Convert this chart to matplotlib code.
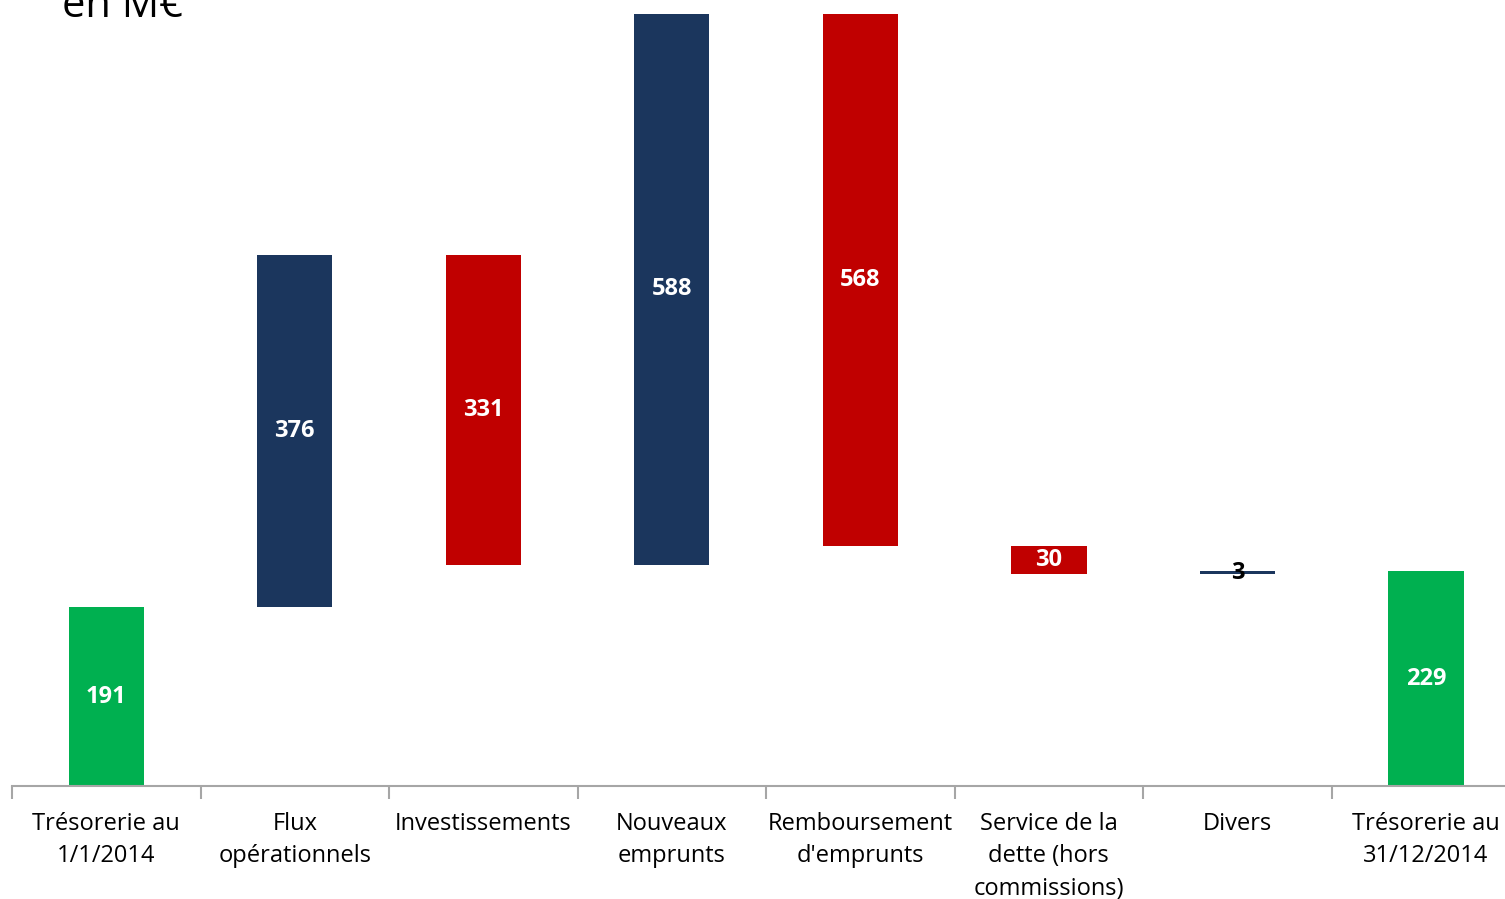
import numpy as np
import matplotlib.pyplot as plt

categories = ["Trésorerie au\n1/1/2014", "Flux\nopérationnels", "Investissements",
              "Nouveaux\nemprunts", "Remboursement\nd'emprunts",
              "Service de la\ndette (hors\ncommissions)", "Divers",
              "Trésorerie au\n31/12/2014"]
changes = [191, 376, -331, 588, -568, -30, 3]
kinds = ["total", "delta", "delta", "delta", "delta", "delta", "delta", "total"]

navy = "#1B365D"
red = "#C00000"
green = "#00B050"

plt.rcParams['font.family'] = ['Open Sans', 'DejaVu Sans']

# cumulative levels
level = np.cumsum(changes)
bottoms, heights, colors, labels = [], [], [], []
prev = 0
for i, k in enumerate(kinds):
    if k == "total":
        val = level[-1] if i > 0 else changes[0]
        bottoms.append(0)
        heights.append(val)
        colors.append(green)
        labels.append(val)
        prev = val
    else:
        d = changes[i]
        bottoms.append(min(prev, prev + d))
        heights.append(abs(d))
        colors.append(navy if d > 0 else red)
        labels.append(abs(d))
        prev = prev + d

fig = plt.figure(figsize=(15.05, 8.99), dpi=100)
ax = fig.add_axes([12 / 1505, (899 - 786) / 899, 1 - 12 / 1505, 786 / 899])

x = np.arange(len(categories))
ax.bar(x, heights, bottom=bottoms, color=colors, width=0.4)

for xi, b, h, lab in zip(x, bottoms, heights, labels):
    col = "black" if h < 10 else "white"
    ax.text(xi, b + h / 2, str(lab), ha="center", va="center", color=col,
            fontsize=17, fontweight="bold")

ax.set_xlim(-0.5, 7.42)
ax.set_ylim(0, 839)

for s in ["top", "right", "left"]:
    ax.spines[s].set_visible(False)
ax.spines["bottom"].set_color("#A6A6A6")
ax.spines["bottom"].set_linewidth(1.5)
ax.set_yticks([])
ax.set_xticks(np.arange(-0.5, 7.5, 1.0))
ax.set_xticklabels([])
ax.set_xticks(x, minor=True)
ax.set_xticklabels(categories, minor=True, fontsize=17, linespacing=1.45)
ax.tick_params(axis="x", which="major", length=9, color="#A6A6A6", width=1.5)
ax.tick_params(axis="x", which="minor", length=0, pad=19)

fig.text(62 / 1505, 1 - 17 / 899, "en M€", fontsize=30, va="baseline", ha="left")

fig.savefig("out.png", dpi=100)
